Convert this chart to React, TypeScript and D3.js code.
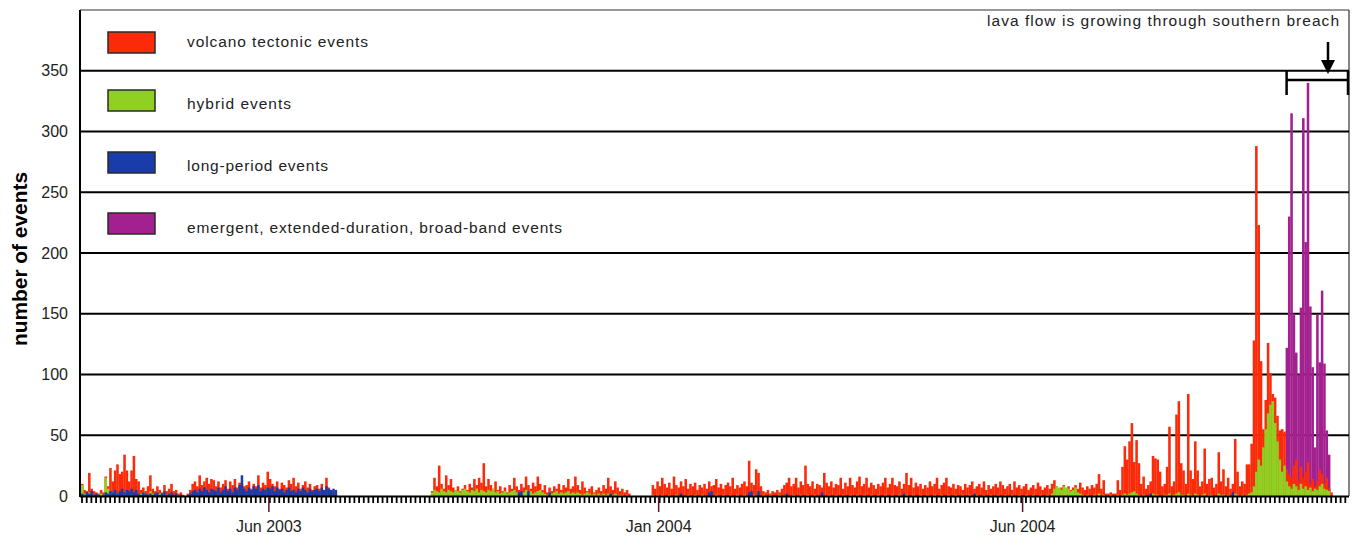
import React from "react";
import * as d3 from "d3";

// ---- DATA (one bin per day) ----
const tickLabels = ["Jun 2003", "Jan 2004", "Jun 2004"];
const tickBins = [80, 246, 401];
const yTicks = [0, 50, 100, 150, 200, 250, 300, 350];

const volcanoTectonic = [
  10, 5, 4, 19, 6, 4, 3, 2, 5, 3,
  16, 8, 23, 12, 21, 26, 18, 20, 34, 21,
  12, 21, 33, 14, 12, 5, 7, 4, 8, 17,
  6, 4, 8, 5, 3, 9, 4, 6, 10, 4,
  5, 2, 3, 1, 0, 2, 5, 10, 12, 8,
  17, 9, 12, 15, 10, 14, 13, 8, 12, 7,
  10, 13, 6, 12, 9, 14, 7, 11, 10, 8,
  9, 12, 6, 10, 8, 17, 7, 11, 9, 20,
  14, 10, 8, 12, 6, 11, 9, 7, 13, 10,
  15, 8, 11, 6, 9, 12, 7, 10, 5, 8,
  9, 6, 10, 5, 15, 7, 4, 3, 2, 0,
  0, 0, 0, 0, 0, 0, 0, 0, 0, 0,
  0, 0, 0, 0, 0, 0, 0, 0, 0, 0,
  0, 0, 0, 0, 0, 0, 0, 0, 0, 0,
  0, 0, 0, 0, 0, 0, 0, 0, 0, 4,
  15, 8, 25, 10, 6, 17, 9, 14, 7, 5,
  8, 4, 6, 9, 5, 10, 7, 14, 9, 15,
  11, 27, 8, 14, 9, 6, 12, 5, 8, 4,
  7, 3, 9, 6, 15, 8, 5, 10, 7, 16,
  9, 6, 11, 8, 16, 10, 5, 9, 3, 7,
  4, 8, 6, 10, 5, 9, 7, 14, 6, 8,
  16, 9, 5, 12, 7, 4, 6, 8, 3, 5,
  7, 4, 9, 6, 15, 8, 5, 12, 7, 4,
  6, 3, 5, 2, 0, 0, 0, 0, 0, 0,
  0, 0, 0, 9, 6, 12, 8, 15, 10, 7,
  11, 6, 16, 9, 7, 12, 8, 14, 6, 10,
  8, 11, 5, 9, 7, 10, 6, 12, 8, 9,
  14, 7, 10, 6, 9, 11, 8, 15, 6, 9,
  7, 10, 12, 8, 29, 11, 9, 22, 19, 8,
  4, 3, 5, 2, 4, 3, 5, 3, 6, 9,
  11, 15, 8, 10, 15, 7, 12, 9, 25, 10,
  8, 12, 6, 10, 9, 7, 19, 11, 8, 12,
  7, 10, 9, 15, 6, 11, 8, 15, 9, 7,
  12, 16, 8, 10, 15, 7, 11, 9, 6, 10,
  8, 11, 15, 7, 10, 15, 9, 8, 12, 6,
  10, 19, 9, 15, 7, 11, 8, 10, 6, 9,
  7, 12, 8, 10, 15, 6, 9, 11, 15, 8,
  7, 10, 6, 9, 8, 5, 10, 7, 9, 12,
  6, 8, 10, 7, 12, 5, 9, 6, 8, 10,
  7, 12, 9, 6, 8, 10, 5, 12, 7, 9,
  6, 8, 10, 5, 7, 9, 6, 11, 8, 5,
  7, 9, 6, 10, 13, 8, 5, 7, 9, 6,
  8, 5, 7, 9, 6, 11, 7, 5, 8, 6,
  9, 7, 10, 18, 6, 13, 2, 2, 3, 2,
  2, 13, 5, 24, 41, 30, 45, 60, 28, 46,
  27, 10, 16, 6, 9, 12, 33, 31, 30, 20,
  8, 10, 24, 57, 8, 12, 67, 78, 27, 21,
  10, 84, 21, 14, 45, 21, 8, 12, 39, 10,
  14, 15, 7, 10, 36, 12, 22, 8, 15, 6,
  10, 47, 20, 8, 12, 10, 26, 26, 43, 128,
  288, 223, 111, 55, 79, 126, 101, 84, 81, 66,
  54, 55, 53, 22, 18, 15, 25, 30, 12, 24,
  15, 20, 28, 10, 14, 8, 12, 22, 18, 10,
  15, 6, 3, 0, 0, 0, 0, 0, 0, 0,
];

const hybrid = [
  9, 2, 1, 3, 2, 1, 0, 1, 2, 1,
  15, 6, 2, 3, 2, 1, 2, 1, 2, 1,
  1, 2, 1, 0, 1, 2, 3, 2, 1, 4,
  2, 1, 3, 2, 1, 4, 1, 2, 1, 0,
  1, 0, 0, 0, 0, 1, 1, 2, 1, 1,
  1, 0, 1, 0, 0, 1, 0, 0, 1, 0,
  0, 1, 0, 0, 1, 0, 0, 0, 1, 0,
  0, 0, 1, 0, 0, 0, 1, 0, 0, 0,
  1, 0, 0, 0, 1, 0, 0, 0, 0, 1,
  0, 0, 0, 1, 0, 0, 0, 0, 1, 0,
  0, 0, 1, 0, 0, 0, 0, 0, 0, 0,
  0, 0, 0, 0, 0, 0, 0, 0, 0, 0,
  0, 0, 0, 0, 0, 0, 0, 0, 0, 0,
  0, 0, 0, 0, 0, 0, 0, 0, 0, 0,
  0, 0, 0, 0, 0, 0, 0, 0, 0, 3,
  5, 4, 3, 6, 4, 3, 5, 4, 3, 5,
  4, 3, 5, 6, 4, 3, 5, 4, 6, 3,
  5, 4, 3, 5, 4, 6, 3, 4, 2, 3,
  4, 2, 3, 4, 5, 3, 2, 4, 3, 5,
  3, 4, 2, 3, 4, 5, 3, 2, 1, 3,
  2, 3, 4, 2, 3, 2, 3, 4, 2, 3,
  2, 3, 2, 1, 2, 3, 2, 1, 2, 1,
  2, 1, 2, 1, 2, 1, 1, 2, 1, 1,
  1, 0, 1, 0, 0, 0, 0, 0, 0, 0,
  0, 0, 0, 1, 0, 1, 0, 1, 0, 0,
  1, 0, 0, 1, 0, 1, 0, 0, 1, 0,
  0, 1, 0, 0, 1, 0, 0, 1, 0, 0,
  1, 0, 0, 1, 0, 0, 1, 0, 0, 1,
  0, 0, 1, 0, 2, 0, 1, 0, 0, 0,
  1, 0, 0, 1, 0, 0, 0, 1, 0, 0,
  1, 0, 0, 1, 0, 0, 1, 0, 0, 1,
  0, 0, 1, 0, 0, 1, 0, 0, 1, 0,
  0, 1, 0, 0, 1, 0, 0, 1, 0, 0,
  1, 0, 0, 1, 0, 0, 1, 0, 0, 1,
  0, 0, 1, 0, 0, 1, 0, 0, 1, 0,
  0, 1, 0, 0, 1, 0, 0, 1, 0, 0,
  1, 0, 0, 1, 0, 0, 1, 0, 0, 1,
  0, 0, 1, 0, 0, 1, 0, 0, 1, 0,
  0, 1, 0, 0, 1, 0, 0, 1, 0, 0,
  1, 0, 0, 1, 0, 0, 1, 0, 0, 1,
  0, 0, 1, 0, 0, 1, 0, 0, 1, 0,
  0, 1, 0, 2, 6, 8, 7, 5, 8, 7,
  6, 4, 5, 7, 3, 2, 1, 0, 1, 0,
  0, 1, 0, 2, 0, 1, 0, 0, 1, 0,
  0, 1, 0, 1, 2, 1, 2, 3, 4, 2,
  1, 0, 1, 0, 0, 1, 2, 1, 1, 0,
  0, 1, 1, 2, 0, 1, 2, 3, 1, 1,
  0, 2, 1, 0, 2, 1, 0, 1, 2, 0,
  1, 1, 0, 0, 2, 1, 1, 0, 1, 0,
  0, 2, 1, 0, 1, 0, 1, 2, 3, 8,
  20, 30, 25, 40, 55, 68, 75, 78, 60, 45,
  30, 20, 25, 12, 8, 6, 10, 8, 5, 10,
  6, 8, 5, 7, 4, 6, 5, 8, 10, 6,
  5, 4, 0, 0, 0, 0, 0, 0, 0, 0,
];

const longPeriod = [
  2, 1, 3, 2, 4, 1, 2, 1, 0, 1,
  3, 2, 4, 3, 5, 2, 4, 6, 3, 5,
  4, 6, 3, 5, 2, 1, 3, 2, 1, 2,
  1, 2, 3, 1, 2, 4, 1, 2, 3, 1,
  2, 0, 1, 0, 0, 1, 2, 4, 5, 3,
  6, 4, 7, 5, 3, 6, 5, 4, 7, 3,
  5, 8, 4, 6, 3, 7, 5, 9, 17, 6,
  4, 7, 5, 8, 6, 9, 4, 6, 5, 7,
  6, 8, 4, 7, 5, 6, 3, 5, 7, 4,
  5, 3, 6, 4, 7, 5, 3, 6, 4, 5,
  6, 4, 7, 5, 8, 6, 5, 6, 5, 0,
  0, 0, 0, 0, 0, 0, 0, 0, 0, 0,
  0, 0, 0, 0, 0, 0, 0, 0, 0, 0,
  0, 0, 0, 0, 0, 0, 0, 0, 0, 0,
  0, 0, 0, 0, 0, 0, 0, 0, 0, 0,
  0, 0, 0, 0, 0, 0, 0, 0, 0, 0,
  0, 0, 0, 0, 0, 0, 0, 0, 0, 0,
  0, 0, 0, 0, 0, 0, 0, 0, 0, 0,
  0, 0, 0, 0, 0, 0, 3, 4, 0, 0,
  4, 0, 0, 0, 0, 0, 0, 0, 0, 3,
  0, 0, 0, 0, 0, 0, 0, 0, 0, 0,
  0, 0, 0, 0, 0, 0, 0, 0, 0, 0,
  0, 0, 0, 0, 0, 2, 0, 0, 0, 0,
  0, 0, 0, 0, 0, 0, 0, 0, 0, 0,
  0, 0, 0, 0, 0, 0, 0, 0, 0, 0,
  0, 0, 0, 0, 0, 2, 0, 0, 0, 0,
  0, 0, 0, 0, 0, 0, 0, 3, 4, 0,
  0, 0, 0, 0, 0, 0, 0, 0, 0, 0,
  0, 0, 0, 0, 3, 4, 0, 0, 4, 0,
  0, 0, 0, 0, 0, 0, 0, 0, 0, 0,
  2, 0, 0, 0, 0, 0, 0, 0, 0, 0,
  0, 0, 0, 0, 0, 3, 0, 0, 0, 0,
  0, 0, 0, 0, 0, 0, 0, 0, 0, 0,
  0, 0, 0, 0, 0, 0, 0, 0, 0, 0,
  0, 0, 0, 0, 0, 0, 0, 0, 0, 0,
  2, 0, 0, 0, 0, 0, 0, 0, 0, 0,
  0, 0, 0, 0, 0, 0, 0, 0, 0, 0,
  0, 0, 0, 0, 0, 0, 0, 0, 0, 0,
  2, 0, 0, 0, 0, 0, 0, 0, 0, 0,
  0, 0, 0, 0, 0, 0, 0, 0, 0, 0,
  0, 0, 0, 0, 0, 0, 0, 0, 0, 0,
  0, 0, 0, 0, 0, 0, 0, 0, 0, 0,
  0, 0, 0, 0, 0, 0, 0, 0, 0, 0,
  0, 0, 0, 0, 0, 0, 0, 0, 0, 0,
  0, 0, 0, 0, 0, 0, 0, 0, 0, 0,
  0, 0, 0, 0, 0, 2, 0, 0, 0, 0,
  0, 0, 0, 0, 0, 0, 0, 0, 0, 0,
  0, 0, 0, 0, 0, 0, 0, 0, 0, 0,
  0, 0, 0, 0, 0, 0, 0, 0, 0, 0,
  3, 0, 0, 0, 0, 0, 0, 0, 0, 0,
  0, 0, 0, 0, 0, 0, 0, 0, 0, 0,
  0, 0, 0, 0, 0, 0, 0, 0, 0, 0,
  0, 0, 0, 0, 0, 0, 0, 0, 0, 0,
  0, 0, 0, 0, 0, 0, 0, 0, 0, 0,
];

// emergent, extended-duration, broad-band events: only present in the last days,
// listed from day index broadBandStart onward
const broadBandStart = 510;
const broadBandValues = [
  0, 0, 0, 122, 230, 315, 150, 118, 100, 155,
  311, 209, 340, 156, 106, 40, 149, 110, 169, 109,
  54, 34, 0, 0, 0, 0, 0, 0, 0, 0,
];

const seriesNames = [
  "volcano tectonic events",
  "hybrid events",
  "long-period events",
  "emergent, extended-duration, broad-band events",
];
const seriesColors = ["#fb2a08", "#8fd023", "#1a3cab", "#a3208f"];
const annotationText = "lava flow  is growing through southern breach";

const W = 1358;
const H = 535;
const M = { left: 80, right: 1349, top: 10, bottom: 496 };

export default function App() {
  const n = volcanoTectonic.length;
  const idx = d3.range(n);
  const x = d3.scaleBand<number>().domain(idx).range([M.left + 1, M.right]).paddingInner(0).paddingOuter(0);
  const y = d3.scaleLinear().domain([0, 400]).range([M.bottom, M.top]);
  const bw = x.bandwidth();

  const broadBand = idx.map((i) => {
    const k = i - broadBandStart;
    return k >= 0 && k < broadBandValues.length ? broadBandValues[k] : 0;
  });

  // draw order: purple (back), red, green, blue (front)
  const layers = [
    { data: broadBand, color: seriesColors[3] },
    { data: volcanoTectonic, color: seriesColors[0] },
    { data: hybrid, color: seriesColors[1] },
    { data: longPeriod, color: seriesColors[2] },
  ];

  const font = "Arial, 'Liberation Sans', sans-serif";
  const legendRects = [32, 90, 152, 213];
  const legendBase = [46.5, 108.5, 171, 233];
  const legendWidths = [181, 104, 141, 375];

  const bracketX0 = x(broadBandStart + 3)! + 1;
  const bracketX1 = M.right - 1;

  return (
    <svg width={W} height={H} style={{ position: "absolute", left: 0, top: 0, background: "#fff" }}>
      <rect x={0} y={0} width={W} height={H} fill="#fff" />
      {/* plot frame */}
      <line x1={M.left} x2={M.right} y1={M.top} y2={M.top} stroke="#333" strokeWidth={1.2} />
      <line x1={M.right} x2={M.right} y1={M.top} y2={M.bottom} stroke="#333" strokeWidth={1.2} />
      {/* gridlines */}
      {yTicks.filter((t) => t > 0).map((t) => (
        <line key={t} x1={M.left} x2={M.right} y1={y(t)} y2={y(t)} stroke="#000" strokeWidth={2} />
      ))}
      {/* bars */}
      {layers.map((L, li) => (
        <g key={li} fill={L.color}>
          {L.data.map((v, i) =>
            v > 0 ? (
              <rect key={i} x={x(i)!} width={bw + 0.2} y={y(v)} height={y(0) - y(v)} />
            ) : null
          )}
        </g>
      ))}
      {/* axes */}
      <line x1={M.left} x2={M.right} y1={M.bottom + 0.5} y2={M.bottom + 0.5} stroke="#000" strokeWidth={2} />
      <line x1={M.left} x2={M.left} y1={M.top} y2={M.bottom + 1} stroke="#000" strokeWidth={2} />
      {/* minor ticks */}
      {idx.filter((i) => i % 2 === 0).map((i) => (
        <line key={i} x1={x(i)! + 1} x2={x(i)! + 1} y1={M.bottom + 1} y2={M.bottom + 7} stroke="#000" strokeWidth={1.8} />
      ))}
      {/* major ticks + labels */}
      {tickBins.map((b, k) => (
        <g key={k}>
          <line x1={x(b)!} x2={x(b)!} y1={M.bottom + 1} y2={M.bottom + 16} stroke="#5a1535" strokeWidth={1.5} />
          <text x={x(b)!} y={532} textAnchor="middle" fontFamily={font} fontSize={16} fill="#222">
            {tickLabels[k]}
          </text>
        </g>
      ))}
      {/* y tick labels */}
      {yTicks.map((t) => (
        <text key={t} x={68} y={y(t)} dy="0.35em" textAnchor="end" fontFamily={font} fontSize={16} fill="#222">
          {t}
        </text>
      ))}
      {/* y title */}
      <text
        transform={`translate(27,259) rotate(-90)`}
        textAnchor="middle"
        fontFamily={font}
        fontSize={20}
        fontWeight="bold"
        fill="#000"
        textLength={174}
        lengthAdjust="spacingAndGlyphs"
      >
        number of events
      </text>
      {/* legend */}
      {seriesNames.map((s, k) => (
        <g key={s}>
          <rect x={108} y={legendRects[k]} width={47} height={21} fill={seriesColors[k]} stroke="#2a2a2a" strokeWidth={1.5} />
          <text x={187} y={legendBase[k]} fontFamily={font} fontSize={15.5} fill="#222" textLength={legendWidths[k]} lengthAdjust="spacing">
            {s}
          </text>
        </g>
      ))}
      {/* annotation */}
      <text x={987} y={26} fontFamily={font} fontSize={15.5} fill="#222" textLength={352} lengthAdjust="spacing">
        {annotationText}
      </text>
      <line x1={1328} x2={1328} y1={42} y2={62} stroke="#000" strokeWidth={2.5} />
      <polygon points="1321,60 1335,60 1328,74" fill="#000" />
      <line x1={bracketX0} x2={bracketX1} y1={80} y2={80} stroke="#000" strokeWidth={2.5} />
      <line x1={bracketX0} x2={bracketX0} y1={71} y2={95} stroke="#000" strokeWidth={2.5} />
      <line x1={bracketX1} x2={bracketX1} y1={71} y2={95} stroke="#000" strokeWidth={2.5} />
    </svg>
  );
}
